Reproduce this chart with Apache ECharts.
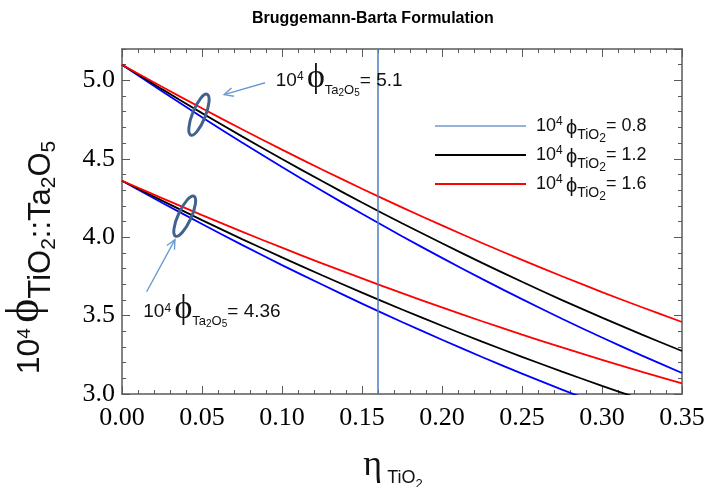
<!DOCTYPE html>
<html><head><meta charset="utf-8">
<script src="https://cdn.jsdelivr.net/npm/echarts@6/dist/echarts.min.js"></script>
<style>html,body{margin:0;padding:0;background:#fff}#c{width:706px;height:487px}</style>
</head><body><div id="c"></div>
<script>
// ---- data ----
const eta = [0, 0.025, 0.05, 0.075, 0.1, 0.125, 0.15, 0.175, 0.2, 0.225, 0.25, 0.275, 0.3, 0.325, 0.35];
// family with 10^4 phi_Ta2O5 = 5.1
const upper08 = [5.100, 4.930, 4.765, 4.604, 4.448, 4.296, 4.149, 4.006, 3.868, 3.734, 3.605, 3.480, 3.360, 3.245, 3.134];
const upper12 = [5.100, 4.944, 4.791, 4.643, 4.498, 4.358, 4.221, 4.089, 3.961, 3.836, 3.716, 3.599, 3.487, 3.379, 3.274];
const upper16 = [5.100, 4.959, 4.822, 4.688, 4.558, 4.432, 4.309, 4.190, 4.075, 3.963, 3.855, 3.751, 3.650, 3.553, 3.459];
// family with 10^4 phi_Ta2O5 = 4.36
const lower08 = [4.360, 4.220, 4.084, 3.951, 3.822, 3.698, 3.576, 3.459, 3.346, 3.236, 3.130, 3.028, 2.930];
const lower12 = [4.360, 4.233, 4.109, 3.988, 3.871, 3.757, 3.646, 3.539, 3.435, 3.334, 3.237, 3.143, 3.052, 2.965];
const lower16 = [4.360, 4.249, 4.141, 4.035, 3.933, 3.833, 3.737, 3.643, 3.552, 3.464, 3.379, 3.297, 3.218, 3.141, 3.068];
const phiTiO2 = ['0.8', '1.2', '1.6'];
const phiTa2O5 = ['5.1', '4.36'];
const xRange = [0, 0.35];
const xStep = 0.05;
const yRange = [3.0, 5.2];
const yStep = 0.5;
const yMinorStep = 0.1;
const markerEta = 0.16;
const titleText = 'Bruggemann-Barta Formulation';

// ---- styling ----
const C_BLUE = '#0000ff', C_BLACK = '#000000', C_RED = '#ff0000';
const AX = '#5a5a5a';
const SANS = "'Liberation Sans', Arial, sans-serif";
const SERIF = "'Liberation Serif', 'Times New Roman', serif";

const chart = echarts.init(document.getElementById('c'), null, {renderer: 'canvas'});

function pairs(arr) { return arr.map((v, i) => [eta[i], v]); }
function mkSeries(name, arr, color, extra) {
  return Object.assign({
    type: 'line', name: name, data: pairs(arr), xAxisIndex: 0, yAxisIndex: 0,
    smooth: 0.3, symbol: 'none', showSymbol: false, clip: true,
    color: color, itemStyle: {color: color},
    lineStyle: {color: color, width: 1.8}, silent: true
  }, extra || {});
}

const legendRich = {
  n0: {fontFamily: SANS, fontSize: 18, color: '#111', lineHeight: 29, verticalAlign: 'middle', padding: [0, 0, 0, 5]},
  n: {fontFamily: SANS, fontSize: 18, color: '#111', lineHeight: 29, verticalAlign: 'middle'},
  sup: {fontFamily: SANS, fontSize: 12, color: '#111', lineHeight: 12, verticalAlign: 'middle', padding: [0, 0, 8, 0]},
  phi: {fontFamily: SANS, fontSize: 20, color: '#111', lineHeight: 16, verticalAlign: 'middle', padding: [4, 0, 0, 0]},
  sub: {fontFamily: SANS, fontSize: 14, color: '#111', lineHeight: 2, verticalAlign: 'middle', padding: [18, 0, 0, 0]},
  sub2: {fontFamily: SANS, fontSize: 12, color: '#111', lineHeight: 2, verticalAlign: 'middle', padding: [26, 0, 0, 0]}
};
const annRich = {
  n: {fontFamily: SANS, fontSize: 19, color: '#111', lineHeight: 22, verticalAlign: 'middle'},
  sup: {fontFamily: SANS, fontSize: 12, color: '#111', lineHeight: 12, verticalAlign: 'middle', padding: [0, 0, 8, 0]},
  phi: {fontFamily: SERIF, fontSize: 34, color: '#2a2418', lineHeight: 34, verticalAlign: 'middle', padding: [0, 0, 6, 0]},
  sub: {fontFamily: SANS, fontSize: 13, color: '#111', lineHeight: 2, verticalAlign: 'middle', padding: [18, 0, 0, 0]},
  sub2: {fontFamily: SANS, fontSize: 10, color: '#111', lineHeight: 2, verticalAlign: 'middle', padding: [24, 0, 0, 0]}
};
const yRich = {
  n: {fontFamily: SANS, fontSize: 32, color: '#111', lineHeight: 34, verticalAlign: 'middle'},
  sup: {fontFamily: SANS, fontSize: 19, color: '#111', lineHeight: 19, verticalAlign: 'middle', padding: [0, 0, 10, 0]},
  phi: {fontFamily: SERIF, fontSize: 46, color: '#111', lineHeight: 46, verticalAlign: 'middle', padding: [0, 0, 9, 0]},
  sub: {fontFamily: SANS, fontSize: 31, color: '#111', lineHeight: 2, verticalAlign: 'middle', padding: [23, 0, 0, 0]},
  sub2: {fontFamily: SANS, fontSize: 21, color: '#111', lineHeight: 2, verticalAlign: 'middle', padding: [39, 0, 0, 0]}
};
const xRich = {
  eta: {fontFamily: SERIF, fontSize: 36, color: '#111', lineHeight: 40, verticalAlign: 'middle'},
  sub: {fontFamily: SANS, fontSize: 18, color: '#111', lineHeight: 2, verticalAlign: 'middle', padding: [24, 0, 0, 0]},
  sub2: {fontFamily: SANS, fontSize: 13, color: '#111', lineHeight: 1, verticalAlign: 'middle', padding: [36, 0, 0, 0]}
};

function xAx(pos) {
  const bottom = pos === 'bottom';
  return {
    type: 'value', position: pos, min: xRange[0], max: xRange[1], interval: xStep,
    axisLine: {show: true, onZero: false, lineStyle: {color: AX, width: 1.5}},
    axisTick: {show: true, inside: true, length: 8, lineStyle: {color: AX, width: 1}},
    minorTick: {show: true, splitNumber: 5, length: 4, lineStyle: {color: AX, width: 1}},
    splitLine: {show: false}, minorSplitLine: {show: false},
    axisLabel: {show: bottom, formatter: v => v.toFixed(2), fontFamily: SERIF, fontSize: 26, color: '#000', margin: 11},
    name: bottom ? '{eta|η}{sub| TiO}{sub2|2}' : '',
    nameLocation: 'middle', nameGap: 52,
    nameTextStyle: {rich: xRich, padding: [0, 18, 0, 0]}
  };
}
function yAx(pos, minor) {
  const left = pos === 'left';
  const showLab = left && !minor;
  return {
    type: 'value', position: pos, min: yRange[0], max: yRange[1], interval: minor ? yMinorStep : yStep,
    axisLine: {show: !minor, onZero: false, lineStyle: {color: AX, width: 1.5}},
    axisTick: {show: true, inside: true, length: minor ? 4 : 8, lineStyle: {color: AX, width: 1}},
    splitLine: {show: false},
    axisLabel: {show: showLab, showMaxLabel: false, formatter: v => v.toFixed(1), fontFamily: SERIF, fontSize: 26, color: '#000', margin: 7},
    name: showLab ? '{n|10}{sup|4 }{phi|ϕ}{sub|TiO}{sub2|2}{sub|::Ta}{sub2|2}{sub|O}{sub2|5}' : '',
    nameLocation: 'middle', nameRotate: 90, nameGap: 69,
    nameTextStyle: {rich: yRich, padding: [0, 72, 0, 0]}
  };
}

const option = {
  animation: false,
  backgroundColor: '#ffffff',
  title: {text: titleText, left: 247, top: 6,
    textStyle: {fontFamily: SANS, fontWeight: 'bold', fontSize: 16, color: '#000'}},
  grid: {left: 122, right: 24, top: 49, bottom: 93, containLabel: false, outerBoundsMode: 'none'},
  legend: {
    orient: 'vertical', left: 435, top: 107, padding: 0, itemGap: -9,
    itemWidth: 91, itemHeight: 2, icon: 'rect',
    data: [
      {name: phiTiO2[0], itemStyle: {color: '#95b3d7'}},
      {name: phiTiO2[1], itemStyle: {color: C_BLACK}},
      {name: phiTiO2[2], itemStyle: {color: C_RED}}
    ],
    formatter: name => '{n0|10}{sup|4 }{phi|ϕ}{sub|TiO}{sub2|2}{n|= ' + name + '}',
    textStyle: {fontFamily: SANS, fontSize: 18, color: '#111', rich: legendRich},
    selectedMode: false
  },
  xAxis: [xAx('bottom'), xAx('top')],
  yAxis: [yAx('left', false), yAx('left', true), yAx('right', false), yAx('right', true)],
  series: [
    mkSeries(phiTiO2[0], upper08, C_BLUE, {
      markLine: {silent: true, symbol: 'none', label: {show: false},
        lineStyle: {color: '#4a7ebb', width: 1.5, type: 'solid'},
        data: [{xAxis: markerEta}]}
    }),
    mkSeries(phiTiO2[1], upper12, C_BLACK),
    mkSeries(phiTiO2[2], upper16, C_RED),
    mkSeries(phiTiO2[0], lower08, C_BLUE),
    mkSeries(phiTiO2[1], lower12, C_BLACK),
    mkSeries(phiTiO2[2], lower16, C_RED)
  ]
};
chart.setOption(option);

// ---- annotations anchored in data coordinates ----
const annot = {
  ellipses: [{at: [0.0481, 4.781], rx: 6.5, ry: 22, tilt: -0.38}, {at: [0.0392, 4.134], rx: 6.5, ry: 22, tilt: -0.43}],
  arrows: [{from: [0.0894, 4.985], to: [0.0638, 4.909]}, {from: [0.0154, 3.652], to: [0.0331, 3.984]}],
  labels: [{at: [0.0961, 4.9955], value: phiTa2O5[0]}, {at: [0.0133, 3.5217], value: phiTa2O5[1]}]
};
function px(p) { return chart.convertToPixel({xAxisIndex: 0, yAxisIndex: 0}, p); }
const g = [];
annot.ellipses.forEach(e => {
  const c = px(e.at);
  g.push({type: 'ellipse', x: c[0], y: c[1], rotation: e.tilt, silent: true, z: 10,
    shape: {cx: 0, cy: 0, rx: e.rx, ry: e.ry},
    style: {fill: 'none', stroke: '#41628c', lineWidth: 3}});
});
annot.arrows.forEach(a => {
  const f = px(a.from), t = px(a.to);
  const dx = t[0] - f[0], dy = t[1] - f[1], L = Math.hypot(dx, dy);
  const ux = dx / L, uy = dy / L, hl = 10, ang = 0.45;
  const p1 = [t[0] - hl * (ux * Math.cos(ang) - uy * Math.sin(ang)), t[1] - hl * (uy * Math.cos(ang) + ux * Math.sin(ang))];
  const p2 = [t[0] - hl * (ux * Math.cos(-ang) - uy * Math.sin(-ang)), t[1] - hl * (uy * Math.cos(-ang) + ux * Math.sin(-ang))];
  g.push({type: 'line', silent: true, z: 10, shape: {x1: f[0], y1: f[1], x2: t[0], y2: t[1]},
    style: {stroke: '#6b9bd2', lineWidth: 1.4}});
  g.push({type: 'polyline', silent: true, z: 10, shape: {points: [p1, t, p2]},
    style: {stroke: '#6b9bd2', lineWidth: 1.4, fill: 'none'}});
});
annot.labels.forEach(l => {
  const c = px(l.at);
  g.push({type: 'text', x: c[0], y: c[1], silent: true, z: 10,
    style: {text: '{n|10}{sup|4 }{phi|ϕ}{sub|Ta}{sub2|2}{sub|O}{sub2|5}{n|= ' + l.value + '}',
      align: 'left', verticalAlign: 'middle', rich: annRich, fontFamily: SANS, fontSize: 19, fill: '#111'}});
});
chart.setOption({graphic: g});
</script>
</body></html>
